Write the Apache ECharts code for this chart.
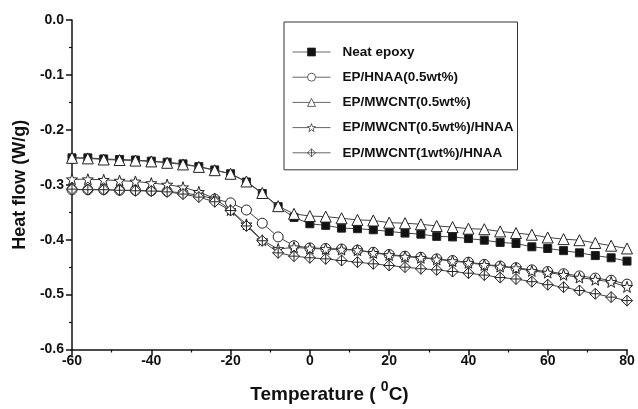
<!DOCTYPE html>
<html>
<head>
<meta charset="utf-8">
<script src="https://cdn.jsdelivr.net/npm/echarts@6/dist/echarts.min.js"></script>
<style>
html,body{margin:0;padding:0;background:#fff;}
#chart{width:638px;height:409px;}
</style>
</head>
<body>
<div id="chart"></div>
<script>
var temps = [-60,-56,-52,-48,-44,-40,-36,-32,-28,-24,-20,-16,-12,-8,-4,0,4,8,12,16,20,24,28,32,36,40,44,48,52,56,60,64,68,72,76,80];
var seriesNames = ['Neat epoxy','EP/HNAA(0.5wt%)','EP/MWCNT(0.5wt%)','EP/MWCNT(0.5wt%)/HNAA','EP/MWCNT(1wt%)/HNAA'];
var neatEpoxy = [-0.251,-0.251,-0.253,-0.254,-0.255,-0.257,-0.259,-0.262,-0.267,-0.273,-0.280,-0.295,-0.316,-0.340,-0.3595,-0.371,-0.374,-0.379,-0.380,-0.382,-0.385,-0.388,-0.390,-0.394,-0.395,-0.398,-0.401,-0.405,-0.407,-0.413,-0.416,-0.420,-0.424,-0.429,-0.433,-0.439];
var epHnaa = [-0.309,-0.309,-0.309,-0.310,-0.310,-0.311,-0.312,-0.315,-0.319,-0.326,-0.333,-0.346,-0.370,-0.395,-0.411,-0.415,-0.416,-0.417,-0.419,-0.423,-0.427,-0.430,-0.432,-0.435,-0.438,-0.441,-0.445,-0.448,-0.451,-0.455,-0.458,-0.462,-0.466,-0.470,-0.474,-0.481];
var epMwcnt = [-0.251,-0.252,-0.254,-0.255,-0.256,-0.2575,-0.260,-0.263,-0.2675,-0.2735,-0.280,-0.294,-0.315,-0.339,-0.353,-0.357,-0.358,-0.361,-0.364,-0.365,-0.369,-0.370,-0.372,-0.375,-0.377,-0.380,-0.381,-0.385,-0.388,-0.391,-0.396,-0.399,-0.401,-0.406,-0.411,-0.416];
var epMwcntHnaa = [-0.290,-0.290,-0.291,-0.2925,-0.294,-0.297,-0.2997,-0.3045,-0.313,-0.325,-0.346,-0.372,-0.401,-0.417,-0.414,-0.416,-0.417,-0.418,-0.419,-0.424,-0.428,-0.431,-0.433,-0.436,-0.439,-0.442,-0.446,-0.449,-0.452,-0.457,-0.460,-0.464,-0.469,-0.473,-0.477,-0.486];
var epMwcnt1Hnaa = [-0.308,-0.309,-0.309,-0.310,-0.311,-0.3115,-0.313,-0.317,-0.3225,-0.331,-0.347,-0.375,-0.402,-0.424,-0.430,-0.433,-0.435,-0.438,-0.441,-0.444,-0.447,-0.450,-0.453,-0.455,-0.458,-0.461,-0.4645,-0.469,-0.4716,-0.4765,-0.482,-0.4866,-0.4926,-0.4985,-0.5046,-0.511];
var xTicks = {min:-60, max:80, interval:20};
var yTicks = {min:-0.6, max:0, interval:0.1};

var FONT = '"Liberation Sans", Arial, sans-serif';
var STAR = 'path://M0,-10L2.35,-3.24L9.51,-3.09L3.8,1.24L5.88,8.09L0,4L-5.88,8.09L-3.8,1.24L-9.51,-3.09L-2.35,-3.24Z';
var CDIAMOND = 'path://M0,-10L10,0L0,10L-10,0Z M0,-10L0,10 M-10,0L10,0';

function pairs(arr){ return temps.map(function(t,i){ return [t, arr[i]]; }); }

var symbols = [
  {symbol:'rect', size:8, fill:'#111'},
  {symbol:'circle', size:10, fill:'#fff'},
  {symbol:'triangle', size:11, fill:'#fff'},
  {symbol:STAR, size:11, fill:'#fff'},
  {symbol:CDIAMOND, size:11, fill:'#fff'}
];
var dataSets = [neatEpoxy, epHnaa, epMwcnt, epMwcntHnaa, epMwcnt1Hnaa];

var series = dataSets.map(function(d, i){
  return {
    name: seriesNames[i],
    type: 'line',
    data: pairs(d),
    symbol: symbols[i].symbol,
    symbolSize: symbols[i].size,
    showAllSymbol: true,
    lineStyle: {color:'#444', width:1},
    itemStyle: {color: symbols[i].fill, borderColor:'#222', borderWidth:1},
    emphasis: {disabled:true},
    animation: false,
    z: 2 + i
  };
});

var chart = echarts.init(document.getElementById('chart'), null, {renderer:'canvas'});
chart.setOption({
  backgroundColor: '#fff',
  animation: false,
  grid: {left:72, right:11, top:20, bottom:54},
  legend: {
    left: 284, top: 22,
    orient: 'vertical',
    data: seriesNames,
    itemWidth: 38, itemHeight: 10, itemGap: 11.2,
    padding: [23, 4, 10, 8],
    borderColor: '#333', borderWidth: 1,
    itemStyle: {borderWidth: 0.7},
    lineStyle: {color:'#666', width:1},
    textStyle: {fontFamily: FONT, fontWeight:'bold', fontSize:13.5, color:'#111', padding:[0,0,0,7]}
  },
  xAxis: {
    type: 'value', min: xTicks.min, max: xTicks.max, interval: xTicks.interval,
    name: 'Temperature ( {sup|0}C)',
    nameLocation: 'middle', nameGap: 31,
    nameTextStyle: {fontFamily: FONT, fontWeight:'bold', fontSize:19, color:'#111', padding:[0,40,0,0],
      rich: {sup: {fontFamily: FONT, fontWeight:'bold', fontSize:14, color:'#111', padding:[0,0,14,0]}}},
    axisLine: {onZero:false, lineStyle:{color:'#111', width:1.5}},
    axisTick: {inside:false, length:6, lineStyle:{color:'#111', width:1.5}},
    minorTick: {show:true, splitNumber:2, length:3, lineStyle:{color:'#111', width:1.2}},
    splitLine: {show:false},
    axisLabel: {fontFamily: FONT, fontWeight:'bold', fontSize:14, color:'#111', margin:5}
  },
  yAxis: {
    type: 'value', min: yTicks.min, max: yTicks.max, interval: yTicks.interval,
    name: 'Heat flow (W/g)',
    nameLocation: 'middle', nameGap: 34, nameRotate: 90,
    nameTextStyle: {fontFamily: FONT, fontWeight:'bold', fontSize:18, color:'#111'},
    axisLine: {show:true, onZero:false, lineStyle:{color:'#111', width:1.5}},
    axisTick: {show:true, inside:false, length:6, lineStyle:{color:'#111', width:1.5}},
    minorTick: {show:true, splitNumber:2, length:3, lineStyle:{color:'#111', width:1.2}},
    splitLine: {show:false},
    axisLabel: {fontFamily: FONT, fontWeight:'bold', fontSize:14, color:'#111', margin:8,
      formatter: function(v){ return v.toFixed(1); }}
  },
  series: series
});
</script>
</body>
</html>
